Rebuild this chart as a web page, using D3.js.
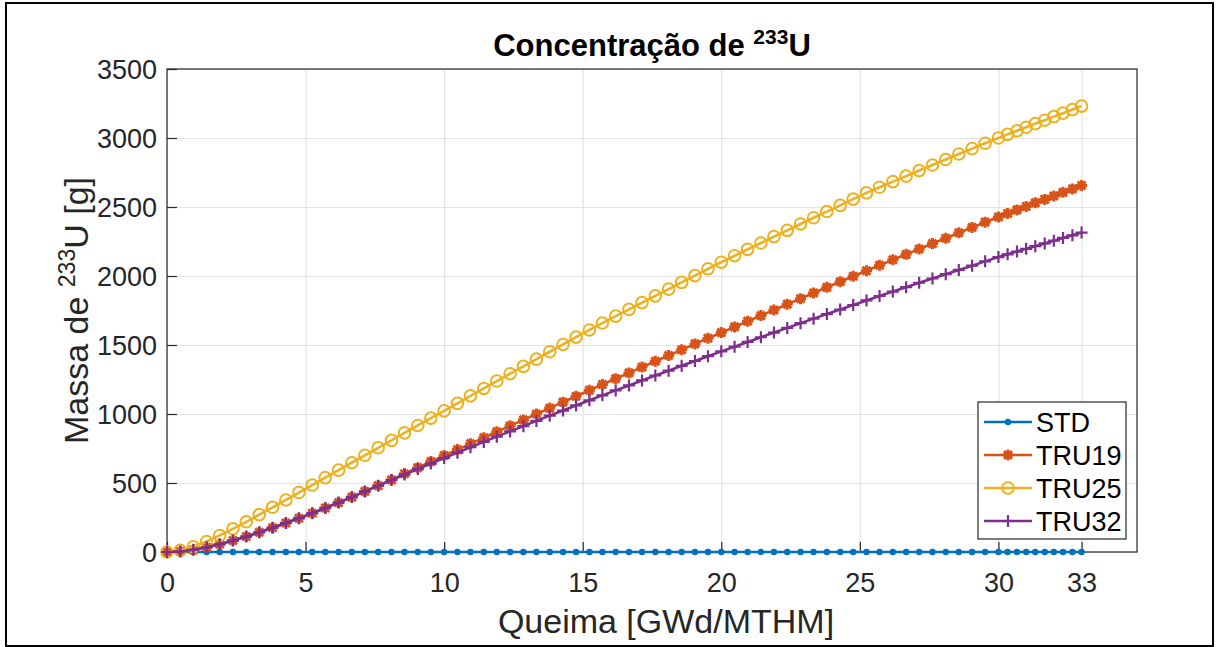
<!DOCTYPE html>
<html>
<head>
<meta charset="utf-8">
<script src="https://cdn.jsdelivr.net/npm/d3@7"></script>
<style>
  body { margin: 0; background: #fff; }
  text { font-family: "Liberation Sans", Arial, sans-serif; }
</style>
</head>
<body>
<div id="graph"></div>
<script>
// burnup steps (GWd/MTHM)
var queima = [0, 0.48, 0.95, 1.43, 1.90, 2.38, 2.86, 3.33, 3.81, 4.29, 4.76, 5.24, 5.71, 6.19, 6.67, 7.14, 7.62, 8.10, 8.57, 9.05, 9.52, 10,
    10.48, 10.95, 11.43, 11.90, 12.38, 12.86, 13.33, 13.81, 14.29, 14.76, 15.24, 15.71, 16.19, 16.67, 17.14, 17.62, 18.10, 18.57, 19.05, 19.52, 20,
    20.48, 20.95, 21.43, 21.90, 22.38, 22.86, 23.33, 23.81, 24.29, 24.76, 25.24, 25.71, 26.19, 26.67, 27.14, 27.62, 28.10, 28.57, 29.05, 29.52, 30,
    30.33, 30.67, 31, 31.33, 31.67, 32, 32.33, 32.67, 33]

var std = [0, 0, 0, 0, 0, 0, 0, 0, 0, 0, 0, 0, 0, 0, 0, 0, 0, 0, 0, 0, 0, 0,
    0, 0, 0, 0, 0, 0, 0, 0, 0, 0, 0, 0, 0, 0, 0, 0, 0, 0, 0, 0, 0,
    0, 0, 0, 0, 0, 0, 0, 0, 0, 0, 0, 0, 0, 0, 0, 0, 0, 0, 0, 0, 0,
    0, 0, 0, 0, 0, 0, 0, 0, 0]

var tru19 = [0, 4, 16, 34, 57, 83, 112, 143, 176, 210, 245, 281, 319, 358, 398, 439, 481, 523, 567, 611, 655, 699,
    742, 785, 828, 871, 914, 957, 1000, 1043, 1086, 1129, 1172, 1214, 1256, 1298, 1340, 1382, 1424, 1466, 1508, 1549, 1590,
    1631, 1672, 1713, 1754, 1795, 1836, 1877, 1918, 1958, 1998, 2038, 2078, 2118, 2157, 2196, 2235, 2274, 2313, 2352, 2390, 2428,
    2453, 2479, 2504, 2530, 2555, 2580, 2606, 2631, 2656]

var tru25 = [0, 12, 38, 76, 120, 168, 219, 271, 324, 377, 431, 485, 539, 593, 647, 701, 755, 809, 863, 917, 970, 1023,
    1077, 1131, 1185, 1239, 1292, 1345, 1398, 1451, 1504, 1557, 1609, 1659, 1709, 1758, 1807, 1856, 1905, 1954, 2003, 2052, 2100,
    2147, 2193, 2239, 2285, 2331, 2377, 2422, 2467, 2512, 2557, 2602, 2643, 2684, 2724, 2764, 2804, 2844, 2884, 2923, 2962, 3000,
    3026, 3052, 3078, 3104, 3129, 3155, 3180, 3206, 3231]

var tru32 = [0, 4, 16, 34, 57, 83, 112, 143, 176, 210, 245, 281, 319, 358, 398, 439, 480, 521, 561, 601, 641, 681,
    720, 759, 798, 836, 874, 912, 950, 988, 1025, 1062, 1099, 1135, 1171, 1207, 1243, 1279, 1314, 1349, 1384, 1419, 1454,
    1488, 1522, 1556, 1590, 1624, 1658, 1691, 1724, 1757, 1790, 1823, 1855, 1887, 1919, 1951, 1982, 2013, 2044, 2075, 2106, 2137,
    2157, 2177, 2197, 2216, 2236, 2256, 2276, 2295, 2315]

var seriesNames = ["STD", "TRU19", "TRU25", "TRU32"]
var xTicks = [0, 5, 10, 15, 20, 25, 30, 33]
var yTicks = [0, 500, 1000, 1500, 2000, 2500, 3000, 3500]

var colors = ["#0072BD", "#D95319", "#EDB120", "#7E2F8E"]
var markers = ["dot", "star", "circle", "plus"]
var values = [std, tru19, tru25, tru32]

var W = 1220, H = 647
var margin = {top: 69, right: 83, bottom: 95, left: 167},
    width = W - margin.left - margin.right,
    height = H - margin.top - margin.bottom
var axisColor = "#262626"

var svg = d3.select("#graph").append("svg")
    .attr("width", W)
    .attr("height", H)

// figure frame
svg.append("rect")
    .attr("x", 6).attr("y", 3)
    .attr("width", 1207).attr("height", 643)
    .attr("fill", "#fff")
    .attr("stroke", "#000")
    .attr("stroke-width", 2)

var x = d3.scaleLinear().domain([0, 35]).range([0, width])
var y = d3.scaleLinear().domain([0, 3500]).range([height, 0])

var g = svg.append("g")
    .attr("transform", "translate(" + margin.left + "," + margin.top + ")")

// grid
g.append("g")
    .attr("class", "grid grid--x")
    .attr("transform", "translate(0," + height + ")")
    .call(d3.axisBottom(x).tickValues(xTicks).tickSize(-height).tickFormat(""))
g.append("g")
    .attr("class", "grid grid--y")
    .call(d3.axisLeft(y).tickValues(yTicks).tickSize(-width).tickFormat(""))
g.selectAll(".grid line").attr("stroke", "#e3e3e3").attr("stroke-width", 1.2)
g.selectAll(".grid .domain").remove()

// axes box
g.append("rect")
    .attr("width", width).attr("height", height)
    .attr("fill", "none")
    .attr("stroke", axisColor)
    .attr("stroke-width", 1.2)

var xAxis = g.append("g")
    .attr("class", "axis axis--x")
    .attr("transform", "translate(0," + height + ")")
    .call(d3.axisBottom(x).tickValues(xTicks).tickSize(-10).tickPadding(14).tickFormat(d3.format("d")))
var yAxis = g.append("g")
    .attr("class", "axis axis--y")
    .call(d3.axisLeft(y).tickValues(yTicks).tickSize(-10).tickPadding(20).tickFormat(d3.format("d")))
g.selectAll(".axis .domain").remove()
g.selectAll(".axis line").attr("stroke", axisColor).attr("stroke-width", 1.2)
g.selectAll(".axis text")
    .attr("fill", axisColor)
    .style("font-size", "27px")
    .style("font-family", "'Liberation Sans', Arial, sans-serif")
xAxis.selectAll("text").attr("dy", "0.95em")
yAxis.selectAll("text").attr("x", -10).attr("dy", "0.36em")

// lines + markers
var line = d3.line()
    .x(function(d) { return x(d[0]) })
    .y(function(d) { return y(d[1]) })

function drawMarker(sel, type, color) {
    if (type == "dot") {
        sel.append("circle").attr("r", 3.2).attr("fill", color)
    } else if (type == "circle") {
        sel.append("circle").attr("r", 5.8).attr("fill", "none")
            .attr("stroke", color).attr("stroke-width", 2)
    } else if (type == "plus") {
        sel.append("path").attr("d", "M-6,0H6M0,-6V6")
            .attr("stroke", color).attr("stroke-width", 2.2)
    } else {
        sel.append("path").attr("d", "M-5.5,0H5.5M0,-5.5V5.5M-4,-4L4,4M-4,4L4,-4")
            .attr("stroke", color).attr("stroke-width", 3)
        sel.append("circle").attr("r", 3).attr("fill", color)
    }
}

values.forEach(function(vals, i) {
    var pts = queima.map(function(q, k) { return [q, vals[k]] })
    var s = g.append("g").attr("class", "series")
    s.append("path")
        .datum(pts)
        .attr("fill", "none")
        .attr("stroke", colors[i])
        .attr("stroke-width", 2.6)
        .attr("d", line)
    s.selectAll(".mk")
        .data(pts)
        .enter().append("g")
        .attr("class", "mk")
        .attr("transform", function(d) { return "translate(" + x(d[0]) + "," + y(d[1]) + ")" })
        .each(function() { drawMarker(d3.select(this), markers[i], colors[i]) })
})

// title
var title = svg.append("text")
    .attr("x", margin.left + width / 2)
    .attr("y", 56)
    .attr("text-anchor", "middle")
    .style("font-size", "31px")
    .style("font-weight", "bold")
    .attr("fill", "#000")
title.append("tspan").text("Concentração de ")
title.append("tspan").attr("dy", -12).style("font-size", "21px").text("233")
title.append("tspan").attr("dy", 12).text("U")

// axis labels
svg.append("text")
    .attr("x", 666)
    .attr("y", 633)
    .attr("text-anchor", "middle")
    .attr("fill", axisColor)
    .style("font-size", "34px")
    .text("Queima [GWd/MTHM]")

var yl = svg.append("text")
    .attr("transform", "translate(88," + (margin.top + height / 2) + ") rotate(-90)")
    .attr("text-anchor", "middle")
    .attr("fill", axisColor)
    .style("font-size", "34px")
yl.append("tspan").text("Massa de ")
yl.append("tspan").attr("dy", -13).style("font-size", "23px").text("233")
yl.append("tspan").attr("dy", 13).text("U [g]")

// legend
var leg = svg.append("g").attr("transform", "translate(978,402)")
leg.append("rect")
    .attr("width", 148).attr("height", 137)
    .attr("fill", "#fff")
    .attr("stroke", axisColor)
    .attr("stroke-width", 1.2)
seriesNames.forEach(function(name, i) {
    var row = leg.append("g").attr("transform", "translate(0," + (20 + i * 33) + ")")
    row.append("line")
        .attr("x1", 6).attr("x2", 54)
        .attr("stroke", colors[i]).attr("stroke-width", 2.6)
    drawMarker(row.append("g").attr("transform", "translate(30,0)"), markers[i], colors[i])
    row.append("text")
        .attr("x", 58).attr("dy", "0.36em")
        .attr("fill", "#000")
        .style("font-size", "27px")
        .text(name)
})
</script>
</body>
</html>
